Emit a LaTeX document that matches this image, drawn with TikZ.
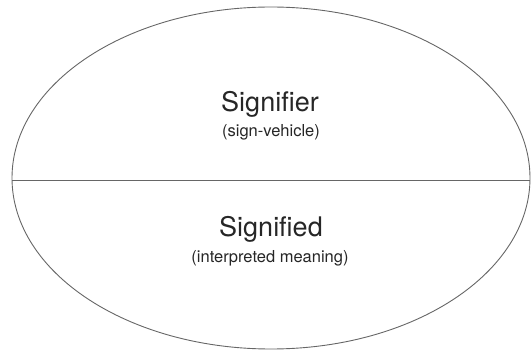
\documentclass[tikz,border=0pt]{standalone}
\usepackage{fontspec}
\setmainfont{TeX Gyre Heros}
\usetikzlibrary{shapes.geometric}
\begin{document}
\begin{tikzpicture}[x=1pt,y=1pt,
  outline/.style={draw=black!60, line width=0.9pt},
  bigtext/.style={anchor=base, inner sep=0pt, font=\fontsize{27}{30}\selectfont, text=black!85},
  smalltext/.style={anchor=base, inner sep=0pt, font=\fontsize{16.5}{19}\selectfont, text=black!85}]
\useasboundingbox (0,0) rectangle (531,354);
\node[outline, ellipse, minimum width=518pt, minimum height=342pt, inner sep=0pt] (ell) at (271,176) {};
\coordinate (L) at (12,174);
\coordinate (R) at (530,174);
\draw[draw=black!60, line width=0.9pt] (L) -- (R);
\node[bigtext] (sr) at (270,242) {Signifier};
\node[smalltext] (srs) at (271,217) {(sign-vehicle)};
\node[bigtext] (sd) at (271,117) {Signified};
\node[smalltext] (sds) at (270,91) {(interpreted meaning)};
\end{tikzpicture}
\end{document}
